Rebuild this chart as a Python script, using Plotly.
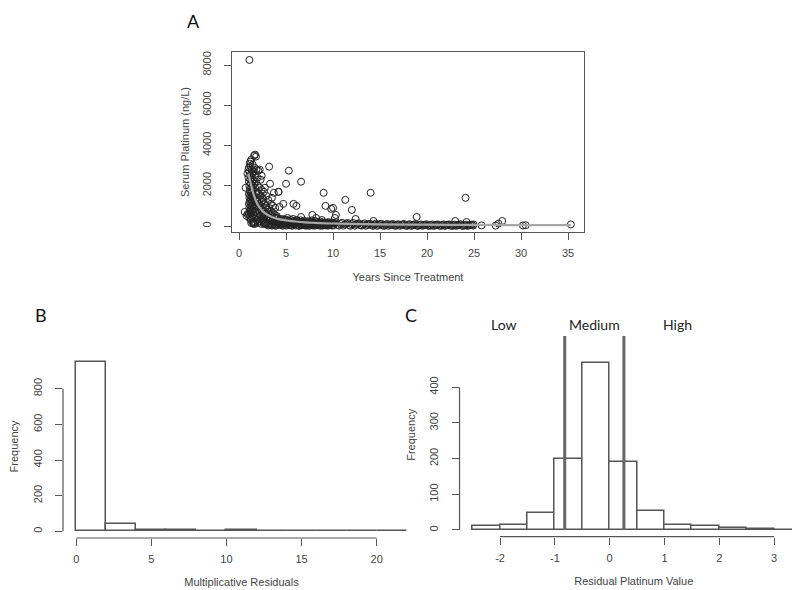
import plotly.graph_objects as go

# ---------------- Panel A data: serum platinum vs years since treatment ----------------
pts = [
    # early / outliers
    (0.6, 700), (0.8, 500), (0.7, 1900), (0.9, 2600), (1.0, 2800), (1.1, 8250), (1.0, 2400), (0.9, 600),
    (1.2, 3200), (1.3, 150), (1.5, 120),
    # dense cluster 1.0-1.5
    (1.05, 2900), (1.1, 2700), (1.15, 3100), (1.2, 2500), (1.25, 2950), (1.3, 3300), (1.35, 2800), (1.4, 2600), (1.45, 3050), (1.5, 2700),
    (1.05, 2200), (1.1, 2000), (1.15, 1800), (1.2, 2300), (1.25, 2100), (1.3, 1900), (1.35, 2400), (1.4, 2200), (1.45, 2000), (1.5, 2300),
    (1.05, 1600), (1.1, 1400), (1.15, 1700), (1.2, 1500), (1.25, 1300), (1.3, 1650), (1.35, 1450), (1.4, 1750), (1.45, 1550), (1.5, 1350),
    (1.05, 1100), (1.1, 900), (1.15, 1200), (1.2, 1000), (1.25, 800), (1.3, 1150), (1.35, 950), (1.4, 1250), (1.45, 1050), (1.5, 850),
    (1.05, 600), (1.1, 400), (1.15, 700), (1.2, 500), (1.25, 300), (1.3, 650), (1.35, 450), (1.4, 750), (1.45, 200), (1.5, 550),
    # dense cluster 1.5-2.5
    (1.6, 3500), (1.7, 3550), (1.8, 3450), (1.65, 2900), (1.75, 2600), (1.85, 2800), (1.95, 2400), (2.05, 2750), (2.2, 2800), (2.3, 2300),
    (1.6, 2100), (1.7, 1900), (1.8, 2200), (1.9, 1700), (2.0, 2000), (2.1, 1600), (2.2, 1900), (2.3, 1500), (2.4, 1800), (2.5, 1400),
    (1.6, 1500), (1.7, 1300), (1.8, 1600), (1.9, 1200), (2.0, 1400), (2.1, 1100), (2.2, 1300), (2.3, 1000), (2.4, 1200), (2.5, 900),
    (1.6, 900), (1.7, 700), (1.8, 1000), (1.9, 800), (2.0, 600), (2.1, 900), (2.2, 700), (2.3, 500), (2.4, 800), (2.5, 600),
    (1.6, 400), (1.7, 200), (1.8, 500), (1.9, 300), (2.0, 150), (2.1, 450), (2.2, 250), (2.3, 350), (2.4, 100), (2.5, 300),
    (1.55, 150), (1.65, 100), (2.6, 150), (2.7, 200), (2.8, 120),
    # cluster 2.5-4
    (2.6, 1300), (2.7, 1100), (2.8, 900), (2.9, 1000), (3.0, 800), (3.1, 700), (3.2, 900), (3.3, 600), (3.4, 750), (3.5, 500),
    (3.6, 650), (3.7, 450), (3.8, 550), (3.9, 400), (4.0, 500),
    (2.6, 700), (2.7, 500), (2.8, 600), (2.9, 400), (3.0, 450), (3.1, 350), (3.2, 400), (3.3, 300), (3.4, 350), (3.5, 250),
    (3.6, 300), (3.7, 200), (3.8, 250), (3.9, 180), (4.0, 220),
    (2.6, 300), (2.7, 100), (2.9, 150), (3.0, 100), (3.2, 80), (3.4, 60), (3.6, 90), (3.8, 50), (4.0, 70), (3.1, 30), (3.5, 20), (3.9, 10),
    (2.65, 1700), (2.9, 1500), (3.1, 1300), (3.4, 1100), (3.6, 1000), (3.85, 900), (3.3, 2100), (3.2, 2950), (3.7, 1650),
    (4.2, 1700), (2.4, 2500), (2.75, 1900), (3.5, 1400),
    # band 4-10
    (4.1, 400), (4.2, 150), (4.3, 300), (4.4, 80), (4.5, 350), (4.6, 200), (4.7, 100), (4.8, 280), (4.9, 50), (5.0, 320),
    (5.1, 180), (5.2, 90), (5.3, 260), (5.4, 40), (5.5, 300), (5.6, 150), (5.7, 220), (5.8, 70), (5.9, 260), (6.0, 130),
    (6.1, 200), (6.2, 60), (6.3, 240), (6.4, 110), (6.5, 180), (6.6, 40), (6.7, 220), (6.8, 100), (6.9, 160), (7.0, 30),
    (7.1, 200), (7.2, 90), (7.3, 150), (7.4, 50), (7.5, 190), (7.6, 80), (7.7, 140), (7.8, 30), (7.9, 170), (8.0, 70),
    (8.2, 130), (8.4, 40), (8.6, 160), (8.8, 60), (9.0, 120), (9.2, 30), (9.4, 150), (9.6, 50), (9.8, 110), (10.0, 20),
    (4.15, 250), (4.35, 120), (4.55, 60), (4.75, 330), (4.95, 180), (5.15, 400), (5.35, 120), (5.55, 60), (5.75, 350), (5.95, 180),
    (6.15, 300), (6.35, 20), (6.55, 280), (6.75, 150), (6.95, 250), (7.15, 20), (7.35, 240), (7.55, 120), (7.75, 280), (7.95, 120),
    (8.1, 250), (8.3, 200), (8.5, 90), (8.7, 220), (8.9, 20), (9.1, 180), (9.3, 90), (9.5, 200), (9.7, 140), (9.9, 170),
    (4.25, 60), (4.45, 230), (4.65, 10), (4.85, 160), (5.05, 20), (5.25, 200), (5.45, 160), (5.65, 10), (5.85, 130), (6.05, 30),
    (6.25, 150), (6.45, 10), (6.65, 120), (6.85, 50), (7.05, 110), (7.25, 160), (7.45, 10), (7.65, 200), (7.85, 60), (8.05, 15),
    (8.25, 70), (8.45, 150), (8.65, 10), (8.85, 140), (9.05, 60), (9.25, 150), (9.45, 15), (9.65, 80), (9.85, 40), (10.05, 140),
    # band 10-25
    (10.2, 130), (10.5, 60), (10.8, 100), (11.1, 20), (11.4, 120), (11.7, 50), (12.0, 90), (12.3, 20), (12.6, 110), (12.9, 40),
    (13.2, 80), (13.5, 15), (13.8, 100), (14.1, 40), (14.4, 70), (14.7, 10), (15.0, 90), (15.3, 30), (15.6, 70), (15.9, 10),
    (16.2, 80), (16.5, 30), (16.8, 60), (17.1, 10), (17.4, 80), (17.7, 25), (18.0, 60), (18.3, 10), (18.6, 70), (18.9, 25),
    (19.2, 55), (19.5, 10), (19.8, 65), (20.1, 20), (20.4, 50), (20.7, 5), (21.0, 60), (21.3, 20), (21.6, 50), (21.9, 5),
    (22.2, 60), (22.5, 20), (22.8, 45), (23.1, 5), (23.4, 55), (23.7, 20), (24.0, 45), (24.3, 5), (24.6, 50), (24.9, 20),
    (10.35, 180), (10.65, 20), (10.95, 160), (11.25, 80), (11.55, 150), (11.85, 10), (12.15, 150), (12.45, 70), (12.75, 130), (13.05, 20),
    (13.35, 130), (13.65, 60), (13.95, 110), (14.25, 10), (14.55, 120), (14.85, 50), (15.15, 110), (15.45, 10), (15.75, 100), (16.05, 50),
    (16.35, 100), (16.65, 10), (16.95, 90), (17.25, 50), (17.55, 100), (17.85, 5), (18.15, 90), (18.45, 40), (18.75, 90), (19.05, 5),
    (19.35, 80), (19.65, 40), (19.95, 90), (20.25, 5), (20.55, 80), (20.85, 40), (21.15, 80), (21.45, 5), (21.75, 80), (22.05, 40),
    (22.35, 80), (22.65, 5), (22.95, 70), (23.25, 40), (23.55, 90), (23.85, 5), (24.15, 70), (24.45, 30), (24.75, 60), (24.95, 80),
    # scattered high values
    (5.3, 2750), (5.0, 2100), (6.6, 2200), (4.2, 1700), (4.7, 1100), (4.3, 950), (5.8, 1100), (6.1, 1000), (6.6, 450),
    (7.8, 550), (8.2, 400), (8.8, 300), (9.0, 1650), (9.2, 1000), (9.8, 850), (10.0, 900), (10.3, 550), (10.2, 400),
    (11.3, 1300), (12.0, 800), (12.4, 350), (14.0, 1650), (14.3, 250), (18.9, 450), (23.0, 250), (24.1, 1400), (24.2, 200),
    # tail
    (25.8, 30), (27.3, 20), (27.6, 120), (28.0, 250), (30.2, 30), (30.5, 40), (35.3, 80),
]
years = [p[0] for p in pts]
platinum = [p[1] for p in pts]

fit_years = [1.0, 1.2, 1.4, 1.6, 1.8, 2.0, 2.3, 2.6, 3.0, 3.5, 4.0, 5.0, 6.0, 7.0, 8.0, 10.0, 12.0, 15.0, 20.0, 25.0, 30.0, 35.3]
fit_platinum = [2600, 2200, 1800, 1500, 1250, 1050, 850, 700, 560, 450, 370, 280, 225, 185, 160, 125, 105, 85, 65, 55, 48, 42]

a_xticks = [0, 5, 10, 15, 20, 25, 30, 35]
a_yticks = [0, 2000, 4000, 6000, 8000]

# ---------------- Panel B data: multiplicative residuals histogram ----------------
b_bin_centers = [1, 3, 5, 7, 9, 11, 13, 15, 17, 19, 21]
b_counts = [952, 39, 9, 5, 2, 5, 2, 2, 2, 2, 2]
b_bin_width = 2
b_xticks = [0, 5, 10, 15, 20]
b_yticks = [0, 200, 400, 600, 800]

# ---------------- Panel C data: residual platinum value histogram ----------------
c_bin_centers = [-2.25, -1.75, -1.25, -0.75, -0.25, 0.25, 0.75, 1.25, 1.75, 2.25, 2.75, 3.25]
c_counts = [11, 14, 48, 199, 469, 191, 53, 13, 10, 6, 2, 1]
c_bin_width = 0.5
c_xticks = [-2, -1, 0, 1, 2, 3]
c_xticklabels = ["-2", "-1", "0", "1", "2", "3"]
c_yticks = [0, 100, 200, 300, 400]
c_cutoffs = [-0.82, 0.26]
c_cutoff_top = 543
c_groups = ["Low", "Medium", "High"]
c_group_x = [-1.93, -0.27, 1.23]

AXC = "#555555"
TXT = "#444444"
FONT = "Liberation Sans, Arial, sans-serif"

fig = go.Figure()

fig.add_trace(go.Scatter(
    x=years, y=platinum, mode="markers", xaxis="x", yaxis="y",
    marker=dict(symbol="circle-open", size=7, color="#222222", line=dict(width=1, color="#222222")),
    showlegend=False, hoverinfo="x+y"))
fig.add_trace(go.Scatter(
    x=fit_years, y=fit_platinum, mode="lines", xaxis="x", yaxis="y",
    line=dict(color="#a8a8a8", width=2.2, shape="spline"), showlegend=False))

fig.add_trace(go.Bar(
    x=b_bin_centers, y=b_counts, width=b_bin_width, xaxis="x2", yaxis="y2",
    marker=dict(color="white", line=dict(color=AXC, width=1.5)), showlegend=False))

fig.add_trace(go.Bar(
    x=c_bin_centers, y=c_counts, width=c_bin_width, xaxis="x3", yaxis="y3",
    marker=dict(color="white", line=dict(color=AXC, width=1.5)), showlegend=False))

tickfont = dict(family=FONT, size=11, color=TXT)
titlefont = dict(family=FONT, size=11, color=TXT)

common = dict(showgrid=False, zeroline=False, ticks="outside", ticklen=7, tickwidth=1,
              tickcolor=AXC, tickfont=tickfont, automargin=False)
xcommon = dict(ticklabelstandoff=4, **common)
ycommon = dict(ticklabelstandoff=9, tickangle=-90, **common)

fig.update_layout(
    template="none",
    width=800, height=590,
    margin=dict(l=0, r=0, t=0, b=0, autoexpand=False),
    paper_bgcolor="white", plot_bgcolor="white",
    font=dict(family=FONT, size=11, color=TXT),
    bargap=0,
    xaxis=dict(domain=[0.28, 0.72], range=[-0.75, 36.7], anchor="y",
               tickvals=a_xticks,
               showline=True, mirror=True, linecolor=AXC, linewidth=1.2,
               title=dict(text="Years Since Treatment", font=titlefont, standoff=14), **xcommon),
    yaxis=dict(domain=[0.6203, 0.9254], range=[-298, 8646], anchor="x",
               tickvals=a_yticks,
               showline=True, mirror=True, linecolor=AXC, linewidth=1.2,
               title=dict(text="Serum Platinum (ng/L)", font=titlefont, standoff=8), **ycommon),
    xaxis2=dict(domain=[0.06875, 0.515], range=[-0.88, 22.88], anchor="y2",
                tickvals=b_xticks, showline=False,
                title=dict(text="Multiplicative Residuals", font=titlefont, standoff=14), **xcommon),
    yaxis2=dict(domain=[0.1017, 0.4119], range=[-38, 990], anchor="x2",
                tickvals=b_yticks, showline=False,
                title=dict(text="Frequency", font=titlefont, standoff=10), **ycommon),
    xaxis3=dict(domain=[0.5644, 1.0], range=[-2.74, 3.62], anchor="y3",
                tickvals=c_xticks, ticktext=c_xticklabels, showline=False,
                title=dict(text="Residual Platinum Value", font=titlefont, standoff=14), **xcommon),
    yaxis3=dict(domain=[0.1039, 0.4492], range=[-18.8, 551.8], anchor="x3",
                tickvals=c_yticks, showline=False,
                title=dict(text="Frequency", font=titlefont, standoff=10), **ycommon),
)

shapes = []
# R-style axis lines spanning first to last tick
shapes.append(dict(type="line", xref="x2", yref="y2 domain", x0=b_xticks[0], x1=b_xticks[-1], y0=0, y1=0,
                   line=dict(color=AXC, width=1.2)))
shapes.append(dict(type="line", xref="x2 domain", yref="y2", x0=0, x1=0, y0=b_yticks[0], y1=b_yticks[-1],
                   line=dict(color=AXC, width=1.2)))
shapes.append(dict(type="line", xref="x3", yref="y3 domain", x0=c_xticks[0], x1=c_xticks[-1], y0=0, y1=0,
                   line=dict(color=AXC, width=1.2)))
shapes.append(dict(type="line", xref="x3 domain", yref="y3", x0=0, x1=0, y0=c_yticks[0], y1=c_yticks[-1],
                   line=dict(color=AXC, width=1.2)))
# cutoff lines
for cx in c_cutoffs:
    shapes.append(dict(type="line", xref="x3", yref="y3", x0=cx, x1=cx, y0=0, y1=c_cutoff_top,
                       line=dict(color="#666666", width=3)))
fig.update_layout(shapes=shapes)

ann = []
LETTER_FONT = dict(family="Lato, Open Sans, sans-serif", size=18, color="#111111")
ann.append(dict(text="A", x=177 / 800, y=1 - 13 / 590, xref="paper", yref="paper", yanchor="middle",
                showarrow=False, font=LETTER_FONT))
ann.append(dict(text="B", x=25 / 800, y=1 - 307 / 590, xref="paper", yref="paper", yanchor="middle",
                showarrow=False, font=LETTER_FONT))
ann.append(dict(text="C", x=403 / 800, y=1 - 307 / 590, xref="paper", yref="paper", yanchor="middle",
                showarrow=False, font=LETTER_FONT))
for g, gx in zip(c_groups, c_group_x):
    ann.append(dict(text=g, x=gx, y=1 - 316 / 590, xref="x3", yref="paper", yanchor="middle",
                    showarrow=False, font=dict(family="Lato, Open Sans, sans-serif", size=14, color="#222222")))
fig.update_layout(annotations=ann)

fig.write_html("out.html")
